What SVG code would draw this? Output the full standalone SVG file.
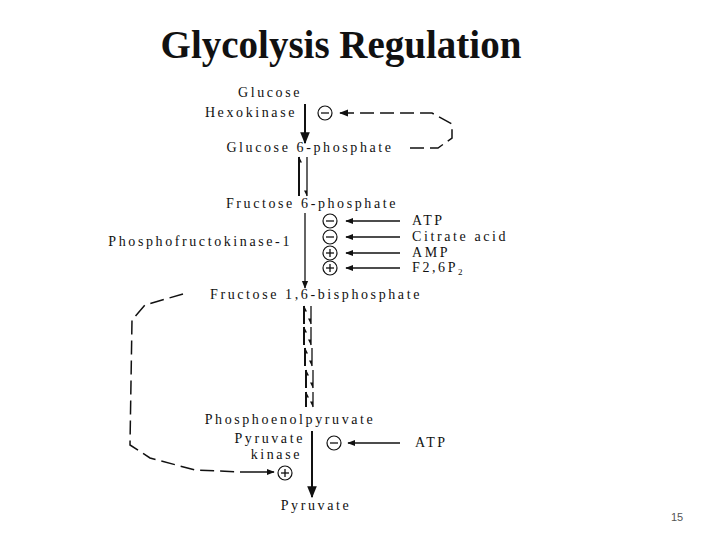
<svg xmlns="http://www.w3.org/2000/svg" width="720" height="540" viewBox="0 0 720 540">
<style>
text{font-family:"Liberation Serif",serif;fill:#111}
.t{font-size:14px;letter-spacing:2.6px}
.c{fill:none;stroke:#111;stroke-width:1.2}
.l{stroke:#111;stroke-width:1.3;fill:none}
.b{stroke:#111;stroke-width:2;fill:none}
.d{stroke:#111;stroke-width:1.5;fill:none;stroke-dasharray:14 6}
</style>
<defs>
<marker id="a" viewBox="0 0 10 10" refX="9" refY="5" markerWidth="6" markerHeight="6" orient="auto"><path d="M0,1 L10,5 L0,9z" fill="#111"/></marker>
<marker id="h" viewBox="0 0 10 10" refX="9" refY="5" markerUnits="userSpaceOnUse" markerWidth="8" markerHeight="6" orient="auto"><path d="M0,5 L10,5 L0,10z" fill="#111"/></marker>
</defs>
<text x="341" y="58" text-anchor="middle" style="font-size:39px;font-weight:bold">Glycolysis Regulation</text>
<text x="677" y="521" text-anchor="middle" style="font-family:'Liberation Sans',sans-serif;font-size:11px;fill:#555">15</text>

<g id="connectors">
<line class="b" x1="305" y1="104" x2="305" y2="143" marker-end="url(#a)"/>
<line class="b" x1="299" y1="196" x2="299" y2="157" marker-end="url(#h)"/>
<line class="l" x1="307" y1="157" x2="307" y2="196" marker-end="url(#h)"/>
<line class="l" x1="305" y1="213" x2="305" y2="288" marker-end="url(#a)"/>
<line class="l" x1="400" y1="221" x2="346" y2="221" marker-end="url(#a)"/>
<line class="l" x1="400" y1="237" x2="346" y2="237" marker-end="url(#a)"/>
<line class="l" x1="400" y1="253" x2="346" y2="253" marker-end="url(#a)"/>
<line class="l" x1="400" y1="268" x2="346" y2="268" marker-end="url(#a)"/>
<line class="b" x1="304" y1="324" x2="304" y2="306" marker-end="url(#h)"/>
<line class="l" x1="311" y1="306" x2="311" y2="324" marker-end="url(#h)"/>
<line class="b" x1="304" y1="345" x2="304" y2="327" marker-end="url(#h)"/>
<line class="l" x1="311" y1="327" x2="311" y2="345" marker-end="url(#h)"/>
<line class="b" x1="305" y1="366" x2="305" y2="348" marker-end="url(#h)"/>
<line class="l" x1="312" y1="348" x2="312" y2="366" marker-end="url(#h)"/>
<line class="b" x1="306" y1="388" x2="306" y2="370" marker-end="url(#h)"/>
<line class="l" x1="313" y1="370" x2="313" y2="388" marker-end="url(#h)"/>
<line class="b" x1="306" y1="407" x2="306" y2="392" marker-end="url(#h)"/>
<line class="l" x1="313" y1="392" x2="313" y2="407" marker-end="url(#h)"/>
<line class="b" x1="312" y1="431" x2="312" y2="497" marker-end="url(#a)"/>
<line class="l" x1="400" y1="443" x2="348" y2="443" marker-end="url(#a)"/>
<path class="d" d="M410,148 L438,148 L452,138 L452,124 L432,113 L340,113" marker-end="url(#a)"/>
<path class="d" d="M183,294 L145,305 L132,320 L130,445 L150,458 L195,470 L240,472" />
<line class="l" x1="240" y1="472" x2="274" y2="472" marker-end="url(#a)"/>
</g>

<g id="glucose"><text class="t" x="270" y="97" text-anchor="middle">Glucose</text></g>
<g id="hexokinase"><text class="t" x="297" y="117" text-anchor="end">Hexokinase</text>
<circle class="c" cx="325" cy="113" r="7"/><line class="l" x1="321" y1="113" x2="329" y2="113"/></g>
<g id="g6p"><text class="t" x="310" y="152" text-anchor="middle">Glucose 6-phosphate</text></g>
<g id="f6p"><text class="t" x="312" y="208" text-anchor="middle">Fructose 6-phosphate</text></g>
<g id="pfk"><text class="t" x="292" y="246" text-anchor="end">Phosphofructokinase-1</text>
<circle class="c" cx="330" cy="221" r="7"/><line class="l" x1="326" y1="221" x2="334" y2="221"/>
<circle class="c" cx="330" cy="237" r="7"/><line class="l" x1="326" y1="237" x2="334" y2="237"/>
<circle class="c" cx="330" cy="253" r="7"/><line class="l" x1="326" y1="253" x2="334" y2="253"/><line class="l" x1="330" y1="249" x2="330" y2="257"/>
<circle class="c" cx="330" cy="268" r="7"/><line class="l" x1="326" y1="268" x2="334" y2="268"/><line class="l" x1="330" y1="264" x2="330" y2="272"/>
<text class="t" x="412" y="225">ATP</text>
<text class="t" x="412" y="241">Citrate acid</text>
<text class="t" x="412" y="257">AMP</text>
<text class="t" x="412" y="272">F2,6P<tspan font-size="9" dy="3">2</tspan></text></g>
<g id="f16bp"><text class="t" x="316" y="299" text-anchor="middle">Fructose 1,6-bisphosphate</text></g>
<g id="pep"><text class="t" x="290" y="424" text-anchor="middle">Phosphoenolpyruvate</text></g>
<g id="pk"><text class="t" x="305" y="443" text-anchor="end">Pyruvate</text><text class="t" x="302" y="459" text-anchor="end">kinase</text>
<circle class="c" cx="334" cy="443" r="7"/><line class="l" x1="330" y1="443" x2="338" y2="443"/>
<circle class="c" cx="285" cy="473" r="7"/><line class="l" x1="281" y1="473" x2="289" y2="473"/><line class="l" x1="285" y1="469" x2="285" y2="477"/>
<text class="t" x="415" y="447">ATP</text></g>
<g id="pyruvate"><text class="t" x="316" y="510" text-anchor="middle">Pyruvate</text></g>
</svg>
